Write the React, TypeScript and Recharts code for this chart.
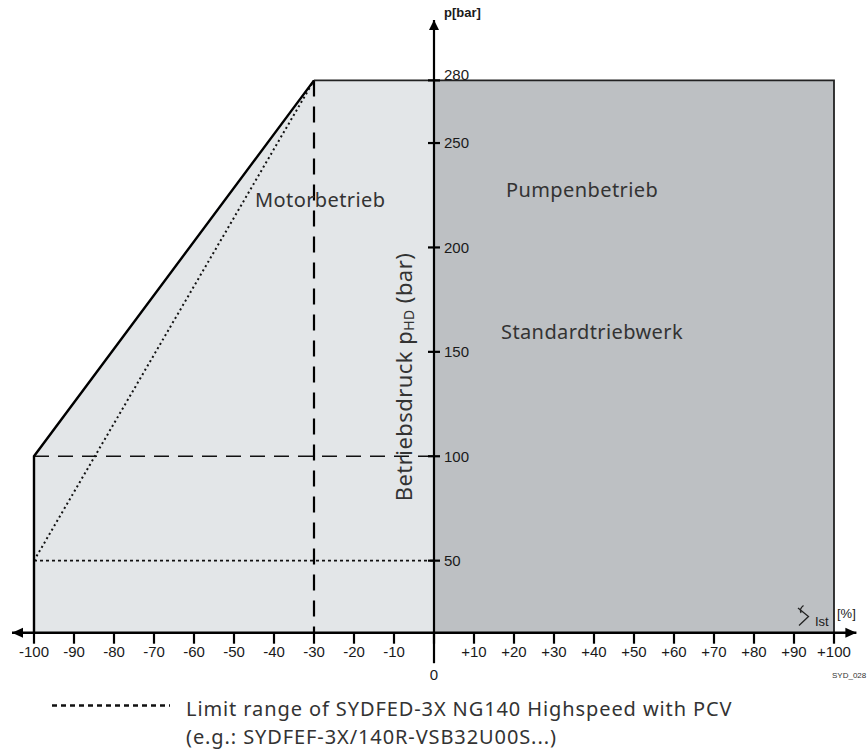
import React from "react";
import { Area, ComposedChart, Line, Scatter, XAxis, YAxis } from "recharts";

// swivel angle in %, operating pressure in bar
const AXIS_P = 15.5;
const P_TOP = 280;

const X_TICKS = [-100, -90, -80, -70, -60, -50, -40, -30, -20, -10, 0, 10, 20, 30, 40, 50, 60, 70, 80, 90, 100];
const Y_TICKS = [50, 100, 150, 200, 250, 280];

// motor mode (light) and pump mode (dark) fields
const MOTOR_FIELD = [
  { x: -100, band: [AXIS_P, 100] },
  { x: -30, band: [AXIS_P, P_TOP] },
  { x: 0, band: [AXIS_P, P_TOP] },
];
const PUMP_FIELD = [
  { x: 0, band: [AXIS_P, P_TOP] },
  { x: 100, band: [AXIS_P, P_TOP] },
];

// outline of the standard unit
const EDGE_LEFT = [
  { x: -100, p: AXIS_P },
  { x: -100, p: 100 },
  { x: -30, p: P_TOP },
];
const EDGE_TOP = [
  { x: -30, p: P_TOP },
  { x: 100, p: P_TOP },
  { x: 100, p: AXIS_P },
];

// dashed guides
const DASH_VERTICAL = [
  { x: -30, p: P_TOP },
  { x: -30, p: AXIS_P },
];
const DASH_100 = [
  { x: -100, p: 100 },
  { x: 0, p: 100 },
];

// dotted limit range (NG140 Highspeed with PCV)
const LIMIT_SLOPE = [
  { x: -100, p: 50 },
  { x: -30, p: P_TOP },
];
const LIMIT_50 = [
  { x: -100, p: 50 },
  { x: 0, p: 50 },
];

// axes
const X_AXIS_LINE = [
  { x: -105.5, p: AXIS_P },
  { x: 105.6, p: AXIS_P },
];
const Y_AXIS_LINE = [
  { x: 0, p: AXIS_P },
  { x: 0, p: 308.9 },
];

const tickFont = '"Liberation Sans", Arial, sans-serif';
const labelFont = '"Noto Sans", "Open Sans", sans-serif';
const ink = "#1a1a1a";

const XTick = (props: any) => {
  const { x, y, payload } = props;
  const v = payload.value;
  if (v === 0) {
    return (
      <g>
        <line x1={x} x2={x} y1={y - 11} y2={y + 19.5} stroke="#000" strokeWidth={2.2} />
        <text x={x} y={y + 36} textAnchor="middle" fontSize={15} fontFamily={tickFont} fill={ink}>
          0
        </text>
      </g>
    );
  }
  return (
    <text x={x} y={y + 13.3} textAnchor="middle" fontSize={15} fontFamily={tickFont} fill={ink}>
      {v > 0 ? `+${v}` : `${v}`}
    </text>
  );
};

const YTick = (props: any) => {
  const { cx, cy, payload } = props;
  const top = payload.p === P_TOP;
  return (
    <g>
      <line x1={cx - 6} x2={cx + 6} y1={cy} y2={cy} stroke="#000" strokeWidth={2.2} />
      <text x={cx + 10} y={top ? cy - 0.5 : cy + 5.3} fontSize={15} fontFamily={tickFont} fill={ink}>
        {payload.p}
      </text>
    </g>
  );
};

const xArrows = (props: any) => {
  const { cx, cy, index } = props;
  const d = index === 0 ? -1 : 1;
  return (
    <polygon
      key={`xa-${index}`}
      points={`${cx},${cy} ${cx - d * 11},${cy - 5} ${cx - d * 11},${cy + 5}`}
      fill="#000"
    />
  );
};

const yArrow = (props: any) => {
  const { cx, cy, index } = props;
  if (index !== 1) return <g key={`ya-${index}`} />;
  return <polygon key={`ya-${index}`} points={`${cx},${cy} ${cx - 5},${cy + 10} ${cx + 5},${cy + 10}`} fill="#000" />;
};

export default function App() {
  return (
    <div style={{ position: "absolute", left: 0, top: 0, width: 868, height: 749, background: "#fff" }}>
      <ComposedChart width={868} height={749} margin={{ top: 0, right: 0, bottom: 66.3, left: 0 }}>
        <XAxis
          type="number"
          dataKey="x"
          domain={[-108.5, 108.5]}
          ticks={X_TICKS}
          interval={0}
          axisLine={false}
          tickLine={{ stroke: "#000", strokeWidth: 2.2 }}
          tickSize={11}
          tickMargin={0}
          tick={<XTick />}
          height={50}
        />
        <YAxis type="number" hide width={0} domain={[AXIS_P, 318.5]} />

        <Area
          data={MOTOR_FIELD}
          dataKey="band"
          type="linear"
          stroke="none"
          fill="#e3e6e8"
          fillOpacity={1}
          isAnimationActive={false}
          activeDot={false}
        />
        <Area
          data={PUMP_FIELD}
          dataKey="band"
          type="linear"
          stroke="none"
          fill="#bdc0c3"
          fillOpacity={1}
          isAnimationActive={false}
          activeDot={false}
        />

        <Line data={LIMIT_50} dataKey="p" type="linear" stroke="#111" strokeWidth={1.6} strokeDasharray="3 3" dot={false} activeDot={false} isAnimationActive={false} />
        <Line data={LIMIT_SLOPE} dataKey="p" type="linear" stroke="#111" strokeWidth={2} strokeDasharray="2 3" dot={false} activeDot={false} isAnimationActive={false} />
        <Line data={DASH_100} dataKey="p" type="linear" stroke="#111" strokeWidth={1.3} strokeDasharray="15 9" dot={false} activeDot={false} isAnimationActive={false} />
        <Line data={DASH_VERTICAL} dataKey="p" type="linear" stroke="#000" strokeWidth={2.2} strokeDasharray="16 10" dot={false} activeDot={false} isAnimationActive={false} />
        <Line data={EDGE_TOP} dataKey="p" type="linear" stroke="#222" strokeWidth={1.8} dot={false} activeDot={false} isAnimationActive={false} />
        <Line data={EDGE_LEFT} dataKey="p" type="linear" stroke="#000" strokeWidth={2.4} dot={false} activeDot={false} isAnimationActive={false} />

        <Line data={X_AXIS_LINE} dataKey="p" type="linear" stroke="#000" strokeWidth={2.4} dot={xArrows} activeDot={false} isAnimationActive={false} />
        <Line data={Y_AXIS_LINE} dataKey="p" type="linear" stroke="#000" strokeWidth={2.2} dot={yArrow} activeDot={false} isAnimationActive={false} />
        <Scatter data={Y_TICKS.map((p) => ({ x: 0, p }))} dataKey="p" shape={<YTick />} isAnimationActive={false} />
      </ComposedChart>

      <svg width={868} height={749} style={{ position: "absolute", left: 0, top: 0, pointerEvents: "none" }}>
        <text x={444} y={17} fontSize={13} fontWeight="bold" fontFamily={tickFont} fill={ink}>
          p[bar]
        </text>
        <text x={255} y={207} fontSize={20} letterSpacing={0.4} fontFamily={labelFont} fill="#333">
          Motorbetrieb
        </text>
        <text x={506} y={197} fontSize={20} letterSpacing={0.4} fontFamily={labelFont} fill="#333">
          Pumpenbetrieb
        </text>
        <text x={501} y={339} fontSize={20} letterSpacing={0.4} fontFamily={labelFont} fill="#333">
          Standardtriebwerk
        </text>
        <text
          transform="translate(412,377) rotate(-90)"
          textAnchor="middle"
          fontSize={22}
          letterSpacing={0.45}
          fontFamily={labelFont}
          fill="#333"
        >
          Betriebsdruck p
          <tspan fontSize={14} dy={2}>HD</tspan>
          <tspan dy={-2}> (bar)</tspan>
        </text>

        <path d="M798 608 L808.5 616.5 L799 625.5 M803.5 605.5 Q799 609 801 613" stroke="#222" strokeWidth={1.3} fill="none" />
        <text x={815} y={626} fontSize={13} fontFamily={tickFont} fill={ink}>
          Ist
        </text>
        <text x={837} y={618} fontSize={13} fontFamily={tickFont} fill={ink}>
          [%]
        </text>
        <text x={832} y={678} fontSize={8} fontFamily={tickFont} fill="#333">
          SYD_028
        </text>

        <line x1={52} x2={170} y1={705.5} y2={705.5} stroke="#111" strokeWidth={2.4} strokeDasharray="5 4" />
        <text x={186} y={716} fontSize={20} letterSpacing={0.9} fontFamily={labelFont} fill="#333">
          Limit range of SYDFED-3X NG140 Highspeed with PCV
        </text>
        <text x={186} y={743.5} fontSize={20} letterSpacing={0.9} fontFamily={labelFont} fill="#333">
          (e.g.: SYDFEF-3X/140R-VSB32U00S...)
        </text>
      </svg>
    </div>
  );
}
